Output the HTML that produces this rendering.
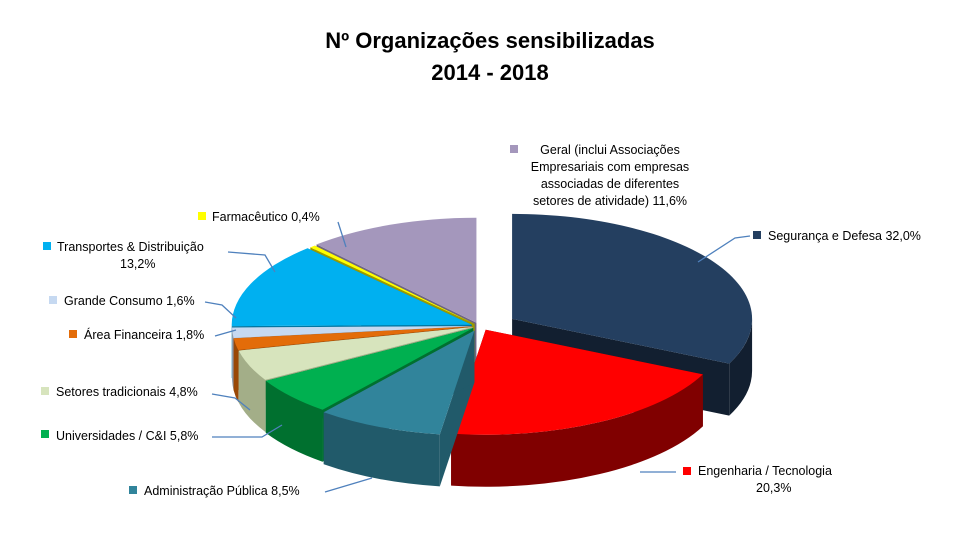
<!DOCTYPE html>
<html>
<head>
<meta charset="utf-8">
<style>
  body { margin:0; background:#fff; }
  #wrap { position:relative; width:967px; height:538px; overflow:hidden; font-family:"Liberation Sans", sans-serif; }
  svg text { font-family:"Liberation Sans", sans-serif; }
</style>
</head>
<body>
<div id="wrap">
<svg id="chart" width="967" height="538">
  <text x="490" y="48" text-anchor="middle" font-size="22" font-weight="bold" fill="#000">Nº Organizações sensibilizadas</text>
  <text x="490" y="80" text-anchor="middle" font-size="22" font-weight="bold" fill="#000">2014 - 2018</text>
  <g id="slices"></g>
  <g id="labels"></g>
</svg>
</div>
<script>
const categories = ["Segurança e Defesa","Engenharia / Tecnologia","Administração Pública","Universidades / C&I","Setores tradicionais","Área Financeira","Grande Consumo","Transportes & Distribuição","Farmacêutico","Geral (inclui Associações Empresariais com empresas associadas de diferentes setores de atividade)"];
const values = [32.0, 20.3, 8.5, 5.8, 4.8, 1.8, 1.6, 13.2, 0.4, 11.6];
const valueLabels = ["32,0%","20,3%","8,5%","5,8%","4,8%","1,8%","1,6%","13,2%","0,4%","11,6%"];

const topColors = ["#243F60","#FF0000","#31849B","#00B050","#D7E4BD","#E36C09","#C6D9F1","#00B0F0","#FFFF00","#A497BC"];
const sideColors = ["#121f30","#800000","#215a6a","#00702f","#a3ae88","#9a4806","#8d9bac","#0077a3","#9a9a00","#6e6582"];
const explode = [38, 12, 14, 9, 8, 8, 8, 9, 8, 10];
const cx = 480, cy = 326, rx = 240, ry = 105, depth = 52;
const NS = "http://www.w3.org/2000/svg";
const total = values.reduce((a,b)=>a+b,0);
function angleOf(v){ return v/total*2*Math.PI; }
function pt(a, ox, oy, dz){ return [cx+ox+rx*Math.sin(a), cy+oy-ry*Math.cos(a)+dz]; }

const slicesG = document.getElementById('slices');
let acc = 0;
const slices = values.map((v,i)=>{
  const a0 = angleOf(acc); acc += v; const a1 = angleOf(acc);
  const mid = (a0+a1)/2;
  return {i, a0, a1, mid, ox: explode[i]*Math.sin(mid), oy: -explode[i]*Math.cos(mid)*0.35};
});
const order = slices.slice().sort((p,q)=>(-Math.cos(p.mid))-(-Math.cos(q.mid)));
order.forEach(s=>{
  const g = document.createElementNS(NS,'g');
  
  
  const c = [cx+s.ox, cy+s.oy];
  [s.a0, s.a1].forEach(a=>{
    const p = pt(a,s.ox,s.oy,0);
    const w = document.createElementNS(NS,'path');
    w.setAttribute('d',`M${c[0]},${c[1]} L${p[0]},${p[1]} L${p[0]},${p[1]+depth} L${c[0]},${c[1]+depth} Z`);
    w.setAttribute('fill', sideColors[s.i]);
    
    
    g.appendChild(w);
  });
  const lo = Math.max(s.a0, Math.PI/2), hi = Math.min(s.a1, 3*Math.PI/2);
  if (hi > lo) {
    const p0 = pt(lo,s.ox,s.oy,0), p1 = pt(hi,s.ox,s.oy,0);
    const large = (hi-lo) > Math.PI ? 1 : 0;
    const sd = document.createElementNS(NS,'path');
    sd.setAttribute('d',`M${p0[0]},${p0[1]} A${rx},${ry} 0 ${large} 1 ${p1[0]},${p1[1]} L${p1[0]},${p1[1]+depth} A${rx},${ry} 0 ${large} 0 ${p0[0]},${p0[1]+depth} Z`);
    sd.setAttribute('fill', sideColors[s.i]);
    
    
    g.appendChild(sd);
  }
  const p0 = pt(s.a0,s.ox,s.oy,0), p1 = pt(s.a1,s.ox,s.oy,0);
  const large = (s.a1-s.a0) > Math.PI ? 1 : 0;
  const top = document.createElementNS(NS,'path');
  top.setAttribute('d',`M${c[0]},${c[1]} L${p0[0]},${p0[1]} A${rx},${ry} 0 ${large} 1 ${p1[0]},${p1[1]} Z`);
  top.setAttribute('fill', topColors[s.i]);
  
  
  g.appendChild(top);
  slicesG.appendChild(g);
});

const labelLayout = [
  {lines:["Segurança e Defesa "+valueLabels[0]], x:768, y:240, anchor:"start", sq:[753,231], lead:[[750,236],[735,238],[698,262]]},
  {lines:["Engenharia / Tecnologia", valueLabels[1]], x:698, y:475, anchor:"start", x2:756, sq:[683,467], lead:[[676,472],[640,472]]},
  {lines:["Administração Pública "+valueLabels[2]], x:144, y:495, anchor:"start", sq:[129,486], lead:[[325,492],[372,478]]},
  {lines:["Universidades / C&I "+valueLabels[3]], x:56, y:440, anchor:"start", sq:[41,430], lead:[[212,437],[262,437],[282,425]]},
  {lines:["Setores tradicionais "+valueLabels[4]], x:56, y:396, anchor:"start", sq:[41,387], lead:[[212,394],[235,398],[250,410]]},
  {lines:["Área Financeira "+valueLabels[5]], x:84, y:339, anchor:"start", sq:[69,330], lead:[[215,336],[236,330]]},
  {lines:["Grande Consumo "+valueLabels[6]], x:64, y:305, anchor:"start", sq:[49,296], lead:[[205,302],[222,305],[236,318]]},
  {lines:["Transportes & Distribuição", valueLabels[7]], x:57, y:251, anchor:"start", x2:120, sq:[43,242], lead:[[228,252],[265,255],[275,272]]},
  {lines:["Farmacêutico "+valueLabels[8]], x:212, y:221, anchor:"start", sq:[198,212], lead:[[338,222],[346,247]]},
  {lines:["Geral (inclui Associações","Empresariais com empresas","associadas de diferentes","setores de atividade) "+valueLabels[9]], x:610, y:154, anchor:"middle", sq:[510,145], lead:[]}
];
const labelsG = document.getElementById('labels');
labelLayout.forEach((L,i)=>{
  const g = document.createElementNS(NS,'g');
  
  
  if (L.lead.length) {
    const pl = document.createElementNS(NS,'polyline');
    pl.setAttribute('points', L.lead.map(p=>p.join(',')).join(' '));
    pl.setAttribute('fill','none'); pl.setAttribute('stroke','#4F81BD'); pl.setAttribute('stroke-width','1.3');
    
    
    g.appendChild(pl);
  }
  const r = document.createElementNS(NS,'rect');
  r.setAttribute('x',L.sq[0]); r.setAttribute('y',L.sq[1]); r.setAttribute('width',8); r.setAttribute('height',8);
  r.setAttribute('fill', topColors[i]);
  
  
  g.appendChild(r);
  L.lines.forEach((ln,k)=>{
    const t = document.createElementNS(NS,'text');
    t.setAttribute('x', k>0 && L.x2 ? L.x2 : L.x);
    t.setAttribute('y', L.y + k*17);
    t.setAttribute('text-anchor', L.anchor);
    t.setAttribute('font-size','12.5'); t.setAttribute('fill','#000');
    t.textContent = ln;
    
    
    g.appendChild(t);
  });
  labelsG.appendChild(g);
});
</script>
</body>
</html>
